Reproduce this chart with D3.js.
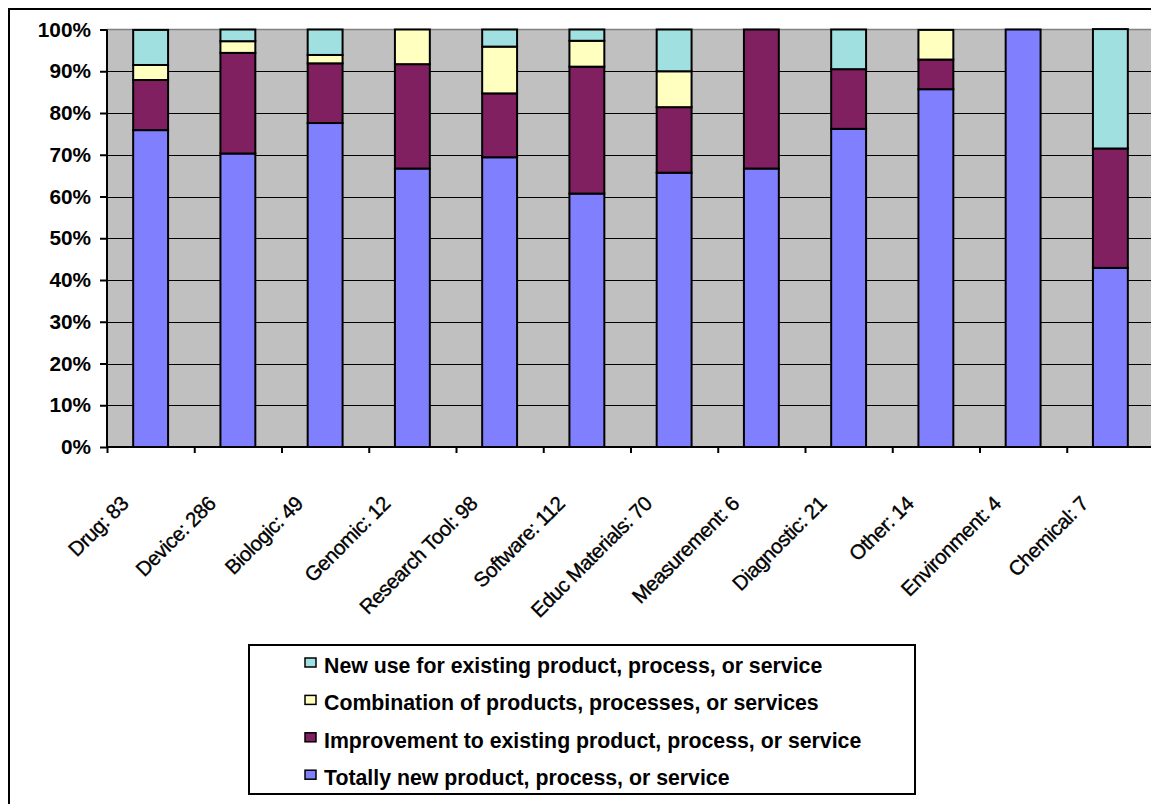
<!DOCTYPE html>
<html>
<head>
<meta charset="utf-8">
<script src="https://cdn.jsdelivr.net/npm/d3@7"></script>
<style>
  html, body { margin: 0; padding: 0; background: #fff; }
  svg { display: block; }
  text { font-family: "Liberation Sans", Arial, sans-serif; }
</style>
</head>
<body>
<svg id="chart" width="1151" height="804"></svg>
<script>
// Categories (with respondent counts) and the share of each innovation type, in percent.
const categories = [
  "Drug: 83", "Device: 286", "Biologic: 49", "Genomic: 12", "Research Tool: 98",
  "Software: 112", "Educ Materials: 70", "Measurement: 6", "Diagnostic: 21",
  "Other: 14", "Environment: 4", "Chemical: 7"
];
const totallyNew  = [75.9, 70.3, 77.6, 66.7, 69.4, 60.7, 65.7, 66.7, 76.2, 85.7, 100, 42.9];
const improvement = [12.0, 24.1, 14.3, 25.0, 15.3, 30.4, 15.7, 33.3, 14.3,  7.1,   0, 28.6];
const combination = [ 3.6,  2.8,  2.0,  8.3, 11.2,  6.2,  8.6,  0,    0,    7.1,   0,  0];
const newUse      = [ 8.4,  2.8,  6.1,  0,    4.1,  2.7, 10.0,  0,    9.5,  0,     0, 28.6];

const seriesNames = [
  "Totally new product, process, or service",
  "Improvement to existing product, process, or service",
  "Combination of products, processes, or services",
  "New use for existing product, process, or service"
];
const seriesValues = [totallyNew, improvement, combination, newUse];
const seriesColors = ["#8080FF", "#802060", "#FFFFC0", "#A0E0E0"];
const yTicks = [0, 10, 20, 30, 40, 50, 60, 70, 80, 90, 100];

const FONT = "'Liberation Sans', Arial, sans-serif";
const svg = d3.select("#chart");

// Outer chart frame
svg.append("rect")
  .attr("x", 9).attr("y", 9).attr("width", 1170).attr("height", 820)
  .attr("fill", "#fff").attr("stroke", "#000").attr("stroke-width", 2);

const plot = { left: 107, right: 1154, top: 29.5, bottom: 447 };

const x = d3.scaleBand()
  .domain(categories)
  .range([plot.left, plot.right])
  .paddingInner(0.6)
  .paddingOuter(0.3);

const y = d3.scaleLinear().domain([0, 100]).range([plot.bottom, plot.top]);

// Plot background
svg.append("rect")
  .attr("x", plot.left).attr("y", plot.top)
  .attr("width", plot.right - plot.left).attr("height", plot.bottom - plot.top)
  .attr("fill", "#C0C0C0");
svg.append("line")
  .attr("x1", plot.left).attr("x2", plot.right)
  .attr("y1", plot.top).attr("y2", plot.top)
  .attr("stroke", "#808080").attr("stroke-width", 1.5);

// Horizontal gridlines
svg.append("g")
  .selectAll("line")
  .data(yTicks.filter(t => t > 0 && t < 100))
  .join("line")
  .attr("x1", plot.left).attr("x2", plot.right)
  .attr("y1", d => Math.round(y(d)) + 0.5).attr("y2", d => Math.round(y(d)) + 0.5)
  .attr("stroke", "#000").attr("stroke-width", 1);

// Stacked bars
const rows = categories.map((c, i) => {
  const r = { category: c };
  seriesNames.forEach((s, k) => { r[s] = seriesValues[k][i]; });
  return r;
});
const stacked = d3.stack().keys(seriesNames)(rows);

svg.append("g")
  .selectAll("g")
  .data(stacked)
  .join("g")
  .attr("fill", (d, k) => seriesColors[k])
  .selectAll("rect")
  .data(d => d.filter(p => p[1] - p[0] > 0))
  .join("rect")
  .attr("x", d => x(d.data.category))
  .attr("width", x.bandwidth())
  .attr("y", d => y(d[1]))
  .attr("height", d => y(d[0]) - y(d[1]))
  .attr("stroke", "#000")
  .attr("stroke-width", 2);

// Y axis
const yAxis = d3.axisLeft(y)
  .tickValues(yTicks)
  .tickSize(7)
  .tickPadding(9)
  .tickFormat(d => d + "%");
const gy = svg.append("g")
  .attr("transform", `translate(${plot.left},0)`)
  .call(yAxis);
gy.select(".domain").attr("stroke-width", 2).attr("d", `M0,${plot.top}V${plot.bottom}`);
gy.selectAll(".tick line").attr("stroke-width", 2);
gy.selectAll(".tick text")
  .attr("font-family", FONT)
  .attr("font-size", 20.8).attr("font-weight", "bold").attr("fill", "#000");

// X axis: ticks on category boundaries
const xb = d3.scaleLinear().domain([0, categories.length]).range([plot.left, plot.right]);
const gx = svg.append("g")
  .attr("transform", `translate(0,${plot.bottom})`)
  .call(d3.axisBottom(xb).tickValues(d3.range(categories.length + 1)).tickSize(6).tickFormat(""));
gx.select(".domain").attr("stroke-width", 2).attr("d", `M${plot.left},0H${plot.right}`);
gx.selectAll(".tick line").attr("stroke-width", 2);

// Rotated category labels
svg.append("g")
  .selectAll("text")
  .data(categories)
  .join("text")
  .attr("transform", d => `translate(${x(d) + x.bandwidth() / 2 - 21},${505}) rotate(-45)`)
  .attr("text-anchor", "end")
  .attr("font-family", FONT)
  .attr("font-size", 20.5)
  .attr("letter-spacing", -0.5)
  .attr("fill", "#000")
  .attr("stroke", "#000")
  .attr("stroke-width", 0.35)
  .text(d => d);

// Legend
const lg = svg.append("g");
lg.append("rect")
  .attr("x", 249).attr("y", 645).attr("width", 666).attr("height", 149)
  .attr("fill", "#fff").attr("stroke", "#000").attr("stroke-width", 2);
const legendOrder = [3, 2, 1, 0];
const items = lg.selectAll("g.item")
  .data(legendOrder)
  .join("g")
  .attr("class", "item")
  .attr("transform", (k, i) => `translate(0,${673 + i * 37.4})`);
items.append("rect")
  .attr("x", 305).attr("y", -15).attr("width", 11).attr("height", 9)
  .attr("fill", k => seriesColors[k]).attr("stroke", "#000").attr("stroke-width", 1.5);
items.append("text")
  .attr("x", 324).attr("y", 0)
  .attr("font-family", FONT)
  .attr("font-size", 21.3).attr("font-weight", "bold").attr("fill", "#000")
  .text(k => seriesNames[k]);
</script>
</body>
</html>
